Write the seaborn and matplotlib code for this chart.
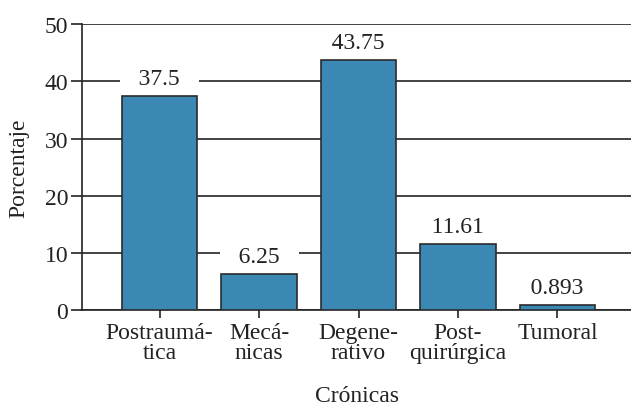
import matplotlib
matplotlib.use("Agg")
import seaborn as sns
import matplotlib.pyplot as plt
import pandas as pd

# datos
categorias = ["Postraumá-\ntica", "Mecá-\nnicas", "Degene-\nrativo", "Post-\nquirúrgica", "Tumoral"]
porcentajes = [37.5, 6.25, 43.75, 11.61, 0.893]
etiquetas = ["37.5", "6.25", "43.75", "11.61", "0.893"]
yticks = [0, 10, 20, 30, 40, 50]

df = pd.DataFrame({"cat": categorias, "pct": porcentajes})

sns.set_theme(style="white")
plt.rcParams['font.family'] = ['Liberation Serif', 'DejaVu Serif']
linecol = "#222222"
fs = 17

fig = plt.figure(figsize=(6.31, 4.06), dpi=100)
ax = fig.add_axes([0.13, 0.234, 0.87, 0.704])

sns.barplot(data=df, x="cat", y="pct", color="#3b88b5", saturation=1,
            edgecolor="#2b2b2b", linewidth=1.2, width=0.76, ax=ax, zorder=3)

ax.set_xlim(-0.78, 4.74)
ax.set_ylim(0, 50)
ax.set_yticks(yticks)
ax.yaxis.grid(True, color=linecol, lw=1.2)
ax.set_axisbelow(True)

# etiquetas de valor con fondo blanco (tapan la rejilla)
ax.bar_label(ax.containers[0], labels=["   " + s + "   " for s in etiquetas],
             padding=5, fontsize=fs, color="#222",
             bbox=dict(facecolor="white", edgecolor="none", pad=1), zorder=2)

for s in ["top", "right"]:
    ax.spines[s].set_visible(False)
for s in ["left", "bottom"]:
    ax.spines[s].set_color(linecol)
    ax.spines[s].set_linewidth(1.2)

ax.tick_params(axis="y", left=True, length=8, width=1.2, color=linecol,
               pad=2, labelsize=fs, labelcolor="#222")
ax.tick_params(axis="x", bottom=True, length=6, width=1.2, color=linecol,
               pad=3, labelsize=fs, labelcolor="#222")
for t in ax.get_xticklabels():
    t.set_linespacing(0.9)

ax.set_xlabel("Crónicas", fontsize=fs, color="#222", labelpad=16)
ax.set_ylabel("Porcentaje", fontsize=fs, color="#222", labelpad=11)

fig.savefig("out.png", dpi=100)
